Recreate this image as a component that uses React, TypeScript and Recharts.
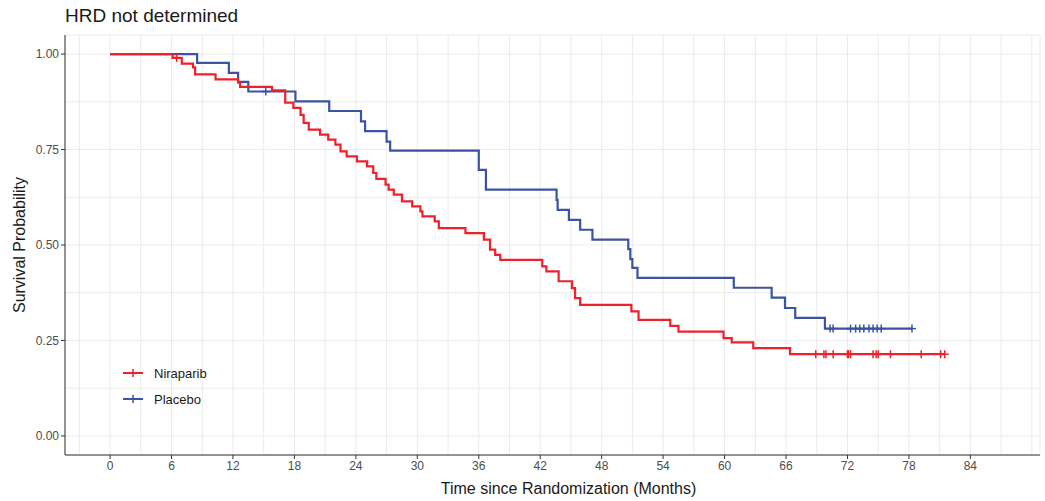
import { ComposedChart, Line, Scatter, XAxis, YAxis, CartesianGrid } from "recharts";

// Kaplan-Meier steps (months, survival after event)
const nirTimes = [0, 6.1, 7.0, 8.1, 8.3, 10.3, 12.5, 12.7, 15.8, 17.1, 17.9, 18.6, 18.9, 19.4, 20.5, 21.3, 22.0, 22.5, 23.1, 24.1, 25.1, 25.7, 26.0, 26.9, 27.2, 27.7, 28.5, 29.5, 30.3, 30.5, 31.7, 32.1, 34.7, 36.5, 37.1, 37.6, 38.1, 42.2, 42.6, 43.8, 45.1, 45.4, 45.9, 50.9, 51.6, 54.7, 55.5, 59.9, 60.7, 62.8, 66.4];
const nirSurv = [1, 0.99, 0.975, 0.965, 0.947, 0.934, 0.925, 0.914, 0.905, 0.873, 0.859, 0.841, 0.82, 0.802, 0.789, 0.776, 0.763, 0.745, 0.732, 0.719, 0.706, 0.689, 0.673, 0.658, 0.645, 0.632, 0.614, 0.601, 0.588, 0.575, 0.562, 0.544, 0.531, 0.514, 0.488, 0.474, 0.461, 0.444, 0.431, 0.405, 0.387, 0.361, 0.343, 0.326, 0.304, 0.288, 0.273, 0.256, 0.245, 0.23, 0.214];
const nirCensor = [6.5, 68.9, 69.7, 69.9, 70.6, 72.0, 72.1, 72.3, 74.5, 74.8, 75.0, 76.2, 79.2, 81.1, 81.5];

const plaTimes = [0, 8.5, 11.6, 12.5, 13.5, 18.1, 21.4, 24.5, 24.9, 27.0, 27.35, 36.0, 36.7, 43.6, 43.7, 44.8, 45.9, 47.1, 50.6, 50.8, 51.0, 51.5, 60.9, 64.6, 65.9, 66.9, 69.8];
const plaSurv = [1, 0.977, 0.951, 0.927, 0.902, 0.876, 0.851, 0.824, 0.798, 0.771, 0.747, 0.697, 0.645, 0.618, 0.592, 0.566, 0.54, 0.514, 0.489, 0.463, 0.44, 0.414, 0.388, 0.362, 0.335, 0.309, 0.281];
const plaCensor = [15.2, 70.3, 70.6, 72.3, 72.8, 73.2, 73.6, 74.1, 74.5, 74.9, 75.3, 78.3];

const xTicks = [0, 6, 12, 18, 24, 30, 36, 42, 48, 54, 60, 66, 72, 78, 84];
const yTicks = [0, 0.25, 0.5, 0.75, 1];
const xGrid = Array.from({ length: 32 }, (_, i) => i * 3 - 3);
const yGrid = [0, 0.125, 0.25, 0.375, 0.5, 0.625, 0.75, 0.875, 1];

const RED = "#F0202A";
const BLUE = "#3A53A4";
const FONT = "'Liberation Sans', Arial, sans-serif";

function survAt(times: number[], surv: number[], t: number) {
  let s = surv[0];
  for (let i = 0; i < times.length; i++) if (times[i] <= t) s = surv[i];
  return s;
}

function curve(times: number[], surv: number[], censor: number[]) {
  const pts = times.map((t, i) => ({ t, s: surv[i] }));
  const end = censor[censor.length - 1];
  pts.push({ t: end, s: survAt(times, surv, end) });
  return pts;
}

function marks(times: number[], surv: number[], censor: number[]) {
  return censor.map((t) => ({ t, s: survAt(times, surv, t) }));
}

const nirData = curve(nirTimes, nirSurv, nirCensor);
const plaData = curve(plaTimes, plaSurv, plaCensor);
const nirMarks = marks(nirTimes, nirSurv, nirCensor);
const plaMarks = marks(plaTimes, plaSurv, plaCensor);

const plus = (color: string) => (props: any) => {
  const { cx, cy } = props;
  return (
    <g stroke={color} strokeWidth={1.5}>
      <line x1={cx - 4} x2={cx + 4} y1={cy} y2={cy} />
      <line x1={cx} x2={cx} y1={cy - 4} y2={cy + 4} />
    </g>
  );
};

function LegendRow({ color, label, top }: { color: string; label: string; top: number }) {
  return (
    <div style={{ position: "absolute", left: 122, top: top - 8, height: 16, display: "flex", alignItems: "center" }}>
      <svg width={22} height={16}>
        <line x1={1} x2={21} y1={8} y2={8} stroke={color} strokeWidth={2} />
        <line x1={11} x2={11} y1={4} y2={12} stroke={color} strokeWidth={1.5} />
      </svg>
      <span style={{ marginLeft: 10, fontSize: 13, color: "#1a1a1a" }}>{label}</span>
    </div>
  );
}

export default function App() {
  const tick = { fontSize: 12, fill: "#4D4D4D", fontFamily: FONT };
  return (
    <div style={{ position: "absolute", left: 0, top: 0, width: 1045, height: 501, background: "#fff", fontFamily: FONT }}>
      <div style={{ position: "absolute", left: 65, top: 5, fontSize: 19, color: "#1a1a1a" }}>HRD not determined</div>
      <ComposedChart width={1045} height={501} margin={{ top: 35, right: 5, bottom: 0, left: 8 }}>
        <XAxis xAxisId="g" type="number" dataKey="t" domain={[-4.4, 90.8]} ticks={xGrid} hide allowDataOverflow />
        <YAxis yAxisId="g" type="number" domain={[-0.05, 1.05]} ticks={yGrid} hide allowDataOverflow />
        <CartesianGrid xAxisId="g" yAxisId="g" stroke="#EBEBEB" strokeWidth={1} />
        <XAxis
          type="number"
          dataKey="t"
          domain={[-4.4, 90.8]}
          ticks={xTicks}
          allowDataOverflow
          height={46}
          tick={tick}
          tickSize={4}
          tickMargin={2}
          stroke="#333"
          tickLine={{ stroke: "#333" }}
        />
        <YAxis
          type="number"
          domain={[-0.05, 1.05]}
          ticks={yTicks}
          allowDataOverflow
          width={57}
          tick={tick}
          tickSize={4}
          tickMargin={2}
          tickFormatter={(v: number) => v.toFixed(2)}
          stroke="#333"
          tickLine={{ stroke: "#333" }}
        />
        <Line data={plaData} dataKey="s" type="stepAfter" stroke={BLUE} strokeWidth={2.2} dot={false} isAnimationActive={false} />
        <Line data={nirData} dataKey="s" type="stepAfter" stroke={RED} strokeWidth={2.2} dot={false} isAnimationActive={false} />
        <Scatter data={plaMarks} dataKey="s" shape={plus(BLUE)} isAnimationActive={false} />
        <Scatter data={nirMarks} dataKey="s" shape={plus(RED)} isAnimationActive={false} />
      </ComposedChart>
      <LegendRow color={RED} label="Niraparib" top={373} />
      <LegendRow color={BLUE} label="Placebo" top={399} />
      <div style={{ position: "absolute", left: 81, width: 975, top: 480, textAlign: "center", fontSize: 16, color: "#1a1a1a" }}>
        Time since Randomization (Months)
      </div>
      <div
        style={{
          position: "absolute",
          left: 20,
          top: 245,
          transform: "translate(-50%, -50%) rotate(-90deg)",
          whiteSpace: "nowrap",
          fontSize: 16,
          color: "#1a1a1a",
        }}
      >
        Survival Probability
      </div>
    </div>
  );
}
